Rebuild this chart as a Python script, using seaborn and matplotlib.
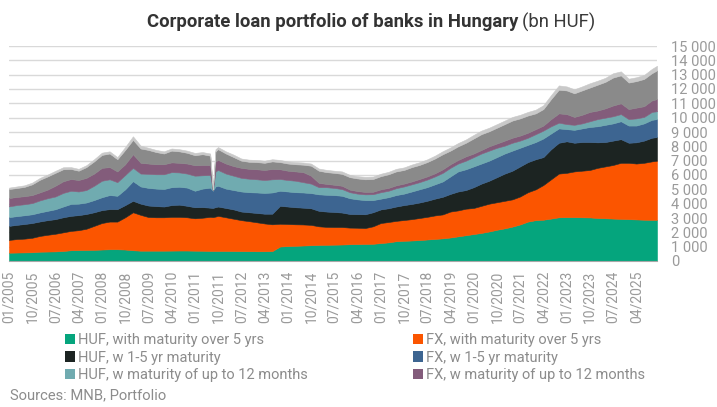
import matplotlib
matplotlib.use("Agg")
import numpy as np
import pandas as pd
import matplotlib.pyplot as plt
import matplotlib.dates as mdates
from matplotlib.patches import Patch
import seaborn as sns

# bn HUF at the first month of every quarter, 01/2005 - 10/2025
quarters = pd.date_range("2005-01-01", "2025-10-01", freq="QS")

huf_over5 = [580, 590, 600, 610, 650, 660, 670, 700, 750, 760,
             770, 780, 800, 820, 820, 800, 750, 720, 720, 720,
             720, 725, 730, 730, 720, 715, 700, 700, 700, 695,
             690, 685, 680, 680, 690, 1010, 1040, 1060, 1080, 1100,
             1120, 1130, 1140, 1150, 1170, 1180, 1190, 1200, 1250, 1300,
             1380, 1410, 1430, 1460, 1500, 1540, 1580, 1640, 1720, 1800,
             1880, 1960, 2060, 2180, 2280, 2400, 2550, 2750, 2850, 2880,
             2960, 3050, 3060, 3060, 3050, 3040, 3000, 2980, 2960, 2940,
             2920, 2900, 2880, 2870]
fx_over5 = [890, 940, 960, 1010, 1100, 1170, 1230, 1300, 1350, 1390,
            1480, 1670, 1850, 1930, 1930, 2250, 2650, 2500, 2350, 2330,
            2330, 2355, 2350, 2320, 2260, 2305, 2380, 2450, 2350, 2255,
            2160, 2095, 2020, 1940, 1870, 1590, 1540, 1500, 1470, 1420,
            1300, 1250, 1230, 1220, 1160, 1140, 1110, 1220, 1400, 1420,
            1420, 1450, 1490, 1540, 1580, 1640, 1670, 1810, 1810, 1850,
            1820, 1890, 1940, 1920, 1920, 1900, 1950, 2050, 2150, 2420,
            2740, 3050, 3090, 3190, 3250, 3310, 3500, 3620, 3740, 3910,
            3930, 3900, 3970, 4080]
huf_1to5 = [980, 990, 1020, 1030, 1010, 1020, 1020, 1050, 1050, 1050,
            1030, 950, 900, 870, 870, 850, 800, 780, 800, 780,
            750, 820, 850, 800, 770, 740, 640, 650, 650, 650,
            600, 620, 650, 680, 740, 1250, 1220, 1190, 1170, 1160,
            1080, 1070, 1050, 1010, 950, 950, 960, 980, 950, 960,
            1000, 1040, 1060, 1080, 1120, 1170, 1230, 1230, 1320, 1300,
            1450, 1550, 1600, 1750, 1900, 2000, 2100, 2100, 2100, 1950,
            2100, 2150, 2200, 2000, 2000, 1950, 1780, 1700, 1700, 1650,
            1400, 1480, 1550, 1650]
fx_1to5 = [610, 610, 610, 610, 630, 650, 690, 750, 830, 800,
           800, 850, 900, 980, 930, 1100, 1370, 1200, 1230, 1220,
           1220, 1250, 1250, 1270, 1150, 1290, 1400, 1450, 1350, 1350,
           1400, 1400, 1430, 1450, 1480, 1050, 1050, 1050, 1060, 1060,
           1150, 1170, 1180, 1170, 1100, 1030, 990, 850, 750, 770,
           800, 800, 870, 920, 950, 1000, 1070, 1220, 1400, 1450,
           1450, 1400, 1400, 1400, 1400, 1400, 1300, 1200, 1200, 1300,
           1100, 1000, 850, 900, 950, 1050, 1120, 1200, 1200, 1250,
           1200, 1170, 1200, 1250]
huf_upto12 = [750, 770, 770, 780, 840, 880, 890, 950, 920, 850,
              870, 1000, 1150, 1100, 950, 1000, 930, 900, 980, 1000,
              1030, 1050, 1000, 980, 1050, 930, 880, 1100, 1050, 1000,
              950, 940, 920, 900, 920, 820, 800, 800, 720, 660,
              500, 530, 500, 470, 420, 400, 400, 410, 450, 450,
              480, 500, 500, 500, 530, 550, 600, 600, 550, 600,
              650, 700, 700, 650, 550, 550, 500, 500, 550, 550,
              500, 400, 350, 350, 350, 400, 500, 500, 500, 500,
              450, 500, 450, 550]
fx_upto12 = [580, 570, 560, 560, 560, 600, 750, 810, 820, 800,
             850, 850, 900, 850, 750, 750, 950, 750, 720, 700,
             700, 680, 670, 700, 730, 720, 700, 700, 700, 670,
             700, 690, 700, 700, 720, 680, 650, 650, 700, 550,
             300, 230, 220, 230, 180, 180, 170, 170, 200, 200,
             200, 200, 200, 220, 220, 220, 250, 250, 250, 300,
             250, 250, 300, 300, 350, 350, 350, 350, 350, 350,
             500, 650, 700, 550, 600, 650, 600, 650, 750, 750,
             700, 750, 750, 800]
# two unlabelled grey layers on top (their legend entries are cut off)
other_a = [630, 620, 650, 750, 880, 920, 900, 840, 700, 650,
           750, 850, 900, 950, 850, 1000, 1000, 1000, 950, 850,
           750, 820, 800, 750, 700, 750, 650, 750, 700, 630,
           500, 490, 500, 500, 530, 500, 500, 500, 520, 700,
           850, 820, 830, 830, 870, 880, 880, 890, 920, 950,
           970, 950, 1000, 980, 1000, 1030, 1050, 950, 950, 950,
           1050, 1100, 1050, 1100, 1150, 1200, 1200, 1200, 1100, 1150,
           1400, 1650, 1650, 1650, 1700, 1700, 1800, 1850, 1950, 1950,
           1850, 1850, 1900, 1900]
other_b = [100, 110, 110, 120, 130, 130, 140, 140, 130, 130,
           130, 150, 160, 150, 150, 200, 250, 200, 150, 150,
           150, 150, 150, 150, 160, 150, 150, 150, 150, 170,
           150, 150, 150, 150, 150, 150, 150, 150, 150, 150,
           150, 160, 150, 170, 160, 160, 170, 170, 170, 170,
           180, 180, 180, 190, 190, 200, 210, 220, 230, 230,
           250, 250, 250, 250, 250, 250, 250, 250, 260, 270,
           280, 300, 280, 280, 280, 300, 280, 280, 300, 280,
           270, 270, 280, 300]

# single months that stand out on the monthly chart (same layer order)
extra_dates = ["2011-08-01", "2011-09-01", "2025-12-01"]
aug_2011 = [700, 2360, 640, 1200, 30, 20, 30, 40]
sep_2011 = [700, 2400, 660, 1440, 1050, 700, 700, 150]
dec_2025 = [2870, 4130, 1650, 1250, 550, 850, 2000, 320]

names = ["HUF, with maturity over 5 yrs", "FX, with maturity over 5 yrs",
         "HUF, w 1-5 yr maturity", "FX, w 1-5 yr maturity",
         "HUF, w maturity of up to 12 months", "FX, w maturity of up to 12 months",
         "other a", "other b"]
colors = ["#05a57d", "#fb5500", "#1c2422", "#3d6591",
          "#70abb0", "#835c7b", "#8a8a8a", "#c9c9c9"]

layers = [huf_over5, fx_over5, huf_1to5, fx_1to5, huf_upto12, fx_upto12, other_a, other_b]
df = pd.DataFrame(dict(zip(names, layers)), index=quarters)
extra = pd.DataFrame([aug_2011, sep_2011, dec_2025], columns=names,
                     index=pd.to_datetime(extra_dates))
df = pd.concat([df, extra]).sort_index()

sns.set_theme(style="white")
plt.rcParams["font.family"] = ["Roboto", "DejaVu Sans"]

W, H = 717, 407
fig = plt.figure(figsize=(W / 100, H / 100), dpi=100)
ax = fig.add_axes([9 / W, 1 - 261 / H, 648 / W, 215 / H])

x = df.index.to_pydatetime()
ax.stackplot(x, df.T.values, colors=colors, linewidth=0.4, edgecolor="face")

ax.set_xlim(pd.Timestamp("2005-01-01"), pd.Timestamp("2025-12-01"))
ax.set_ylim(0, 15000)
ax.set_axisbelow(True)
ax.yaxis.grid(True, color="#d9d9d9", lw=1)
ax.xaxis.grid(False)
for s in ["top", "left", "right"]:
    ax.spines[s].set_visible(False)
ax.spines["bottom"].set_color("#a8a8a8")
ax.spines["bottom"].set_linewidth(0.8)

ticks = pd.date_range("2005-01-01", "2025-04-01", freq="9MS")
ax.set_xticks(ticks.to_pydatetime())
ax.xaxis.set_major_formatter(mdates.DateFormatter("%m/%Y"))
ax.tick_params(axis="x", rotation=90, length=0, pad=7, labelsize=10, labelcolor="#9a9a9a")

ax.set_yticks(range(0, 15001, 1000))
ax.yaxis.tick_right()
ax.yaxis.set_major_formatter(lambda v, p: f"{v:,.0f}".replace(",", " "))
ax.tick_params(axis="y", length=0, pad=10, labelsize=10.5, labelcolor="#9a9a9a")

handles = [Patch(facecolor=c, edgecolor="none") for c in colors]
leg_kw = dict(loc="upper left", frameon=False, fontsize=10.5, handlelength=0.7,
              handleheight=0.7, handletextpad=0.2, labelspacing=0.25,
              borderpad=0, borderaxespad=0, labelcolor="#8c8c8c")
fig.legend([handles[i] for i in (0, 2, 4)], [names[i] for i in (0, 2, 4)],
           bbox_to_anchor=(65 / W, 1 - 333 / H), **leg_kw)
fig.legend([handles[i] for i in (1, 3, 5)], [names[i] for i in (1, 3, 5)],
           bbox_to_anchor=(413 / W, 1 - 333 / H), **leg_kw)

# title: bold part + normal part, centred together
ty = 1 - 22 / H
t1 = fig.text(0, ty, "Corporate loan portfolio of banks in Hungary", fontsize=13.3,
              fontweight="bold", color="#333333", va="center")
t2 = fig.text(0, ty, "(bn HUF)", fontsize=13.3, color="#3a3a3a", va="center")
fig.canvas.draw()
r = fig.canvas.get_renderer()
w1 = t1.get_window_extent(r).width
w2 = t2.get_window_extent(r).width
gap = 4
x0 = 371 - (w1 + gap + w2) / 2
t1.set_x(x0 / W)
t2.set_x((x0 + w1 + gap) / W)

fig.text(10 / W, 1 - 395 / H, "Sources: MNB, Portfolio", fontsize=10.6,
         color="#8c8c8c", va="center")

fig.savefig("out.png", dpi=100)
